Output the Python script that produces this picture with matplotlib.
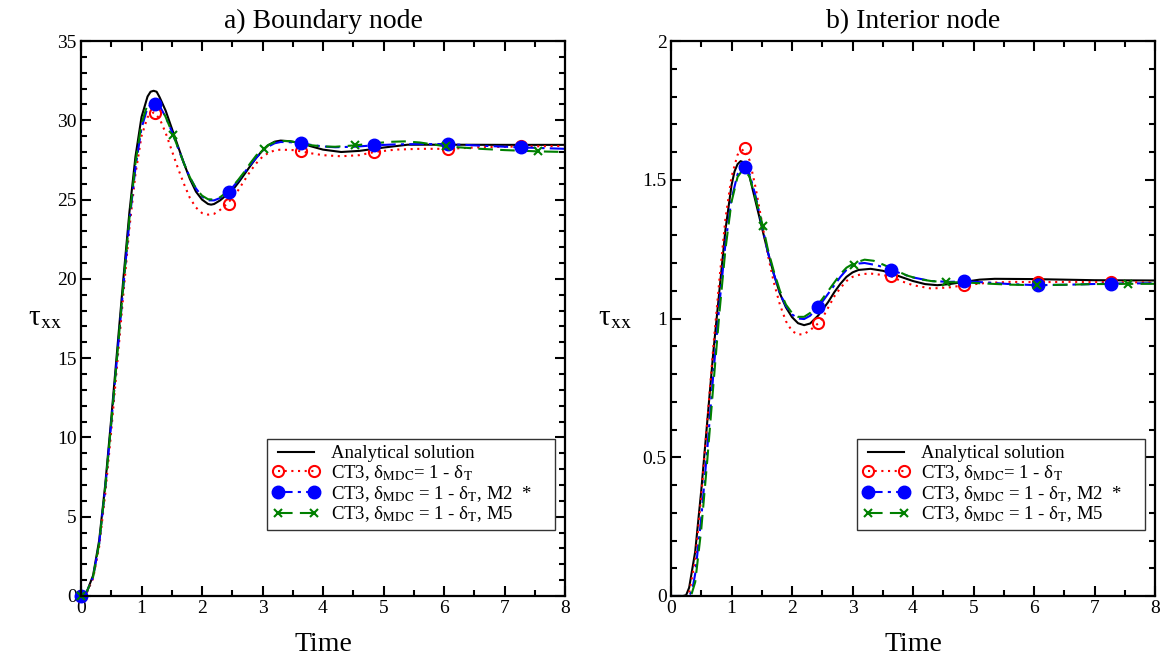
import numpy as np
import matplotlib
matplotlib.use("Agg")
import matplotlib.pyplot as plt
from matplotlib.lines import Line2D

plt.rcParams['font.family'] = ['Liberation Serif', 'DejaVu Serif']
plt.rcParams['mathtext.fontset'] = 'stix'

# ---- a) boundary node ----
tb_exact = [0, 0.1, 0.2, 0.3, 0.4, 0.5, 0.6, 0.7, 0.8, 0.9, 1.0, 1.1, 1.15, 1.2, 1.25, 1.3,
            1.4, 1.5, 1.6, 1.7, 1.8, 1.9, 2.0, 2.1, 2.15, 2.2, 2.3, 2.44, 2.5, 2.6, 2.7, 2.8,
            2.9, 3.0, 3.1, 3.2, 3.3, 3.45, 3.64, 3.8, 4.0, 4.3, 4.6, 4.85, 5.0, 5.4, 6.0, 7.0, 8.0]
vb_exact = [0, 0.3, 1.3, 3.5, 7.0, 11.2, 15.6, 20.0, 24.2, 27.7, 30.2, 31.5, 31.8, 31.86, 31.8, 31.45,
            30.6, 29.5, 28.4, 27.3, 26.3, 25.5, 25.0, 24.72, 24.68, 24.72, 24.95, 25.4, 25.57, 26.06, 26.59, 27.13,
            27.65, 28.09, 28.44, 28.65, 28.72, 28.68, 28.56, 28.36, 28.15, 28.0, 28.07, 28.2, 28.28, 28.46, 28.46, 28.45, 28.45]

tb_ct3 = [0, 0.1, 0.2, 0.3, 0.4, 0.5, 0.6, 0.7, 0.8, 0.9, 1.0, 1.1, 1.2, 1.3, 1.4, 1.5, 1.6, 1.7,
          1.8, 1.9, 2.0, 2.1, 2.2, 2.3, 2.42, 2.5, 2.6, 2.7, 2.8, 2.9, 3.0, 3.1, 3.2, 3.3, 3.5, 3.64,
          3.8, 4.0, 4.3, 4.6, 4.85, 5.2, 5.6, 6.06, 6.6, 7.27, 8.0]
vb_ct3 = [0, 0.25, 1.1, 3.1, 6.4, 10.4, 14.7, 19.0, 23.2, 26.6, 29.0, 30.2, 30.5, 30.1, 29.2, 28.1, 27.0, 26.0,
          25.1, 24.5, 24.15, 24.05, 24.1, 24.35, 24.75, 25.1, 25.6, 26.2, 26.8, 27.3, 27.7, 27.95, 28.1, 28.15, 28.12, 28.04,
          27.92, 27.8, 27.73, 27.8, 28.0, 28.15, 28.2, 28.2, 28.3, 28.35, 28.38]

tb_m2 = [0, 0.1, 0.2, 0.3, 0.4, 0.5, 0.6, 0.7, 0.8, 0.9, 1.0, 1.1, 1.2, 1.3, 1.4, 1.5, 1.6, 1.7,
         1.8, 1.9, 2.0, 2.1, 2.2, 2.3, 2.42, 2.5, 2.6, 2.7, 2.8, 2.9, 3.0, 3.1, 3.2, 3.3, 3.45, 3.64,
         3.8, 4.0, 4.2, 4.5, 4.85, 5.2, 5.6, 6.06, 6.6, 7.27, 8.0]
vb_m2 = [0, 0.3, 1.2, 3.3, 6.8, 10.9, 15.2, 19.5, 23.6, 27.0, 29.5, 30.8, 31.1, 30.9, 30.2, 29.3, 28.3, 27.3,
         26.4, 25.7, 25.2, 24.95, 24.95, 25.1, 25.46, 25.75, 26.2, 26.7, 27.2, 27.65, 28.05, 28.35, 28.55, 28.63, 28.62, 28.56,
         28.45, 28.35, 28.3, 28.33, 28.42, 28.48, 28.5, 28.5, 28.4, 28.29, 28.2]

tb_m5 = [0, 0.1, 0.2, 0.3, 0.4, 0.5, 0.6, 0.7, 0.8, 0.9, 1.0, 1.1, 1.2, 1.3, 1.4, 1.52, 1.6, 1.7,
         1.8, 1.9, 2.0, 2.1, 2.2, 2.3, 2.42, 2.5, 2.6, 2.7, 2.8, 2.9, 3.02, 3.1, 3.2, 3.3, 3.45, 3.64,
         3.8, 4.0, 4.2, 4.53, 4.85, 5.1, 5.35, 5.6, 6.04, 6.6, 7.0, 7.55, 8.0]
vb_m5 = [0, 0.3, 1.2, 3.3, 6.8, 10.9, 15.2, 19.6, 23.8, 27.3, 29.8, 31.0, 31.3, 31.0, 30.2, 29.1, 28.3, 27.3,
         26.4, 25.7, 25.25, 25.02, 25.0, 25.15, 25.5, 25.8, 26.25, 26.75, 27.3, 27.8, 28.19, 28.45, 28.62, 28.7, 28.68, 28.55,
         28.43, 28.35, 28.33, 28.42, 28.55, 28.64, 28.67, 28.6, 28.35, 28.2, 28.12, 28.04, 28.0]

tb_mk = [0, 1.22, 2.44, 3.64, 4.85, 6.06, 7.27]
vb_mk_ct3 = [0, 30.49, 24.75, 28.04, 28.0, 28.2, 28.35]
vb_mk_m2 = [0, 31.04, 25.46, 28.56, 28.42, 28.5, 28.29]
tb_mk_m5 = [0, 1.52, 3.02, 4.53, 6.04, 7.55]
vb_mk_m5 = [0, 29.1, 28.19, 28.42, 28.35, 28.04]

# ---- b) interior node ----
ti_exact = [0, 0.2, 0.25, 0.3, 0.4, 0.5, 0.6, 0.7, 0.8, 0.9, 1.0, 1.05, 1.1, 1.15, 1.2, 1.25, 1.3,
            1.4, 1.5, 1.6, 1.7, 1.8, 1.9, 2.0, 2.1, 2.2, 2.3, 2.43, 2.5, 2.6, 2.7, 2.8, 2.9, 3.0,
            3.1, 3.3, 3.5, 3.64, 3.8, 4.0, 4.2, 4.4, 4.6, 4.85, 5.1, 5.35, 6.0, 7.0, 8.0]
vi_exact = [0, 0, 0.003, 0.03, 0.16, 0.38, 0.63, 0.88, 1.1, 1.32, 1.48, 1.53, 1.556, 1.567, 1.563, 1.545, 1.51,
            1.42, 1.33, 1.24, 1.16, 1.09, 1.04, 1.005, 0.983, 0.976, 0.982, 1.01, 1.03, 1.06, 1.095, 1.125, 1.15, 1.166,
            1.175, 1.179, 1.172, 1.163, 1.15, 1.135, 1.124, 1.12, 1.124, 1.132, 1.14, 1.143, 1.142, 1.138, 1.137]

ti_ct3 = [0, 0.25, 0.3, 0.4, 0.5, 0.6, 0.7, 0.8, 0.9, 1.0, 1.1, 1.2, 1.3, 1.4, 1.5, 1.6, 1.7, 1.8,
          1.9, 2.0, 2.1, 2.2, 2.3, 2.43, 2.5, 2.6, 2.7, 2.8, 2.9, 3.0, 3.15, 3.3, 3.45, 3.64, 3.8, 4.0,
          4.3, 4.6, 4.85, 5.2, 5.6, 6.06, 6.6, 7.27, 8.0]
vi_ct3 = [0, 0, 0.01, 0.13, 0.36, 0.63, 0.9, 1.14, 1.36, 1.51, 1.59, 1.61, 1.57, 1.47, 1.35, 1.23, 1.13, 1.05,
          0.99, 0.955, 0.942, 0.944, 0.958, 0.982, 1.0, 1.04, 1.08, 1.11, 1.135, 1.15, 1.16, 1.162, 1.158, 1.152, 1.135, 1.12,
          1.108, 1.112, 1.12, 1.128, 1.132, 1.131, 1.132, 1.131, 1.13]

ti_m2 = [0, 0.3, 0.35, 0.4, 0.5, 0.6, 0.7, 0.8, 0.9, 1.0, 1.1, 1.2, 1.3, 1.4, 1.5, 1.6, 1.7, 1.8,
         1.9, 2.0, 2.1, 2.2, 2.3, 2.43, 2.5, 2.6, 2.7, 2.8, 2.9, 3.0, 3.1, 3.2, 3.4, 3.64, 3.8, 4.0,
         4.3, 4.6, 4.85, 5.2, 5.6, 6.06, 6.6, 7.27, 8.0]
vi_m2 = [0, 0, 0.02, 0.08, 0.28, 0.53, 0.8, 1.05, 1.27, 1.43, 1.52, 1.548, 1.52, 1.44, 1.34, 1.24, 1.16, 1.09,
         1.045, 1.015, 1.0, 0.998, 1.01, 1.042, 1.06, 1.09, 1.12, 1.15, 1.175, 1.19, 1.198, 1.2, 1.192, 1.176, 1.162, 1.148,
         1.135, 1.132, 1.134, 1.13, 1.124, 1.12, 1.122, 1.126, 1.127]

ti_m5 = [0, 0.33, 0.4, 0.5, 0.6, 0.7, 0.8, 0.9, 1.0, 1.1, 1.2, 1.3, 1.4, 1.52, 1.6, 1.7, 1.8, 1.9,
         2.0, 2.1, 2.2, 2.3, 2.43, 2.5, 2.6, 2.7, 2.8, 2.9, 3.03, 3.2, 3.35, 3.5, 3.7, 3.9, 4.1, 4.3,
         4.54, 4.85, 5.2, 5.6, 6.05, 6.6, 7.0, 7.55, 8.0]
vi_m5 = [0, 0, 0.05, 0.24, 0.49, 0.76, 1.02, 1.25, 1.42, 1.51, 1.54, 1.51, 1.43, 1.332, 1.25, 1.17, 1.1, 1.05,
         1.02, 1.006, 1.006, 1.02, 1.05, 1.07, 1.1, 1.13, 1.16, 1.183, 1.2, 1.212, 1.208, 1.195, 1.175, 1.155, 1.142, 1.135,
         1.131, 1.13, 1.126, 1.122, 1.12, 1.122, 1.124, 1.125, 1.125]

ti_mk = [1.22, 2.43, 3.64, 4.85, 6.06, 7.27]
vi_mk_ct3 = [1.614, 0.982, 1.152, 1.12, 1.131, 1.131]
vi_mk_m2 = [1.546, 1.042, 1.176, 1.134, 1.12, 1.126]
ti_mk_m5 = [1.52, 3.03, 4.54, 6.05, 7.55]
vi_mk_m5 = [1.332, 1.194, 1.131, 1.12, 1.125]

labels = ['Analytical solution',
          'CT3, δ$_{\\rm MDC}$= 1 - δ$_{\\rm T}$',
          'CT3, δ$_{\\rm MDC}$ = 1 - δ$_{\\rm T}$, M2  *',
          'CT3, δ$_{\\rm MDC}$ = 1 - δ$_{\\rm T}$, M5']

RED_LS = (0, (1, 2.2))
BLUE_LS = (0, (7, 2.5, 1.5, 2.5))
GREEN_LS = (0, (7, 3.5))
RED_MK = dict(marker='o', ms=8, mfc='none', mec='red', mew=1.5, ls='none')
BLUE_MK = dict(marker='o', ms=9, mfc='blue', mec='blue', ls='none')
GREEN_MK = dict(marker='x', ms=6, mec='green', mew=1.5, ls='none')


def draw(ax, exact, ct3, m2, m5, mk_ct3, mk_m2, mk_m5):
    ax.plot(*exact, color='black', lw=1.5)
    ax.plot(*ct3, color='red', lw=1.5, ls=RED_LS)
    ax.plot(*m2, color='blue', lw=1.5, ls=BLUE_LS)
    ax.plot(*m5, color='green', lw=1.5, ls=GREEN_LS)
    ax.plot(*mk_ct3, **RED_MK, clip_on=False)
    ax.plot(*mk_m2, **BLUE_MK, clip_on=False)
    ax.plot(*mk_m5, **GREEN_MK, clip_on=False)


def style(ax, ymax, ymaj, ymin):
    ax.set_xlim(0, 8)
    ax.set_ylim(0, ymax)
    ax.set_xticks(np.arange(0, 9, 1))
    ax.set_xticks(np.arange(0, 8.01, 0.5), minor=True)
    ax.set_yticks(np.arange(0, ymax + 1e-9, ymaj))
    ax.set_yticks(np.arange(0, ymax + 1e-9, ymin), minor=True)
    ax.tick_params(which='both', direction='in', top=True, right=True, labelsize=14, width=1.5)
    ax.tick_params(which='major', length=7.5, pad=3)
    ax.tick_params(which='minor', length=4)
    for s in ax.spines.values():
        s.set_linewidth(1.6)
    ax.set_xlabel('Time', fontsize=20, labelpad=11)
    ax.set_ylabel('τ$_{\\rm xx}$', fontsize=21, rotation=0, ha='right', va='center')


def legend(ax):
    handles = [Line2D([], [], color='black', lw=1.5),
               Line2D([], [], color='red', lw=1.5, ls=RED_LS, marker='o', ms=8, mfc='none', mec='red', mew=1.5),
               Line2D([], [], color='blue', lw=1.5, ls=BLUE_LS, marker='o', ms=9, mfc='blue', mec='blue'),
               Line2D([], [], color='green', lw=1.5, ls=GREEN_LS, marker='x', ms=6, mec='green', mew=1.5)]
    leg = ax.legend(handles, labels, loc='lower left', bbox_to_anchor=(0.384, 0.119, 0.595, 0.171),
                    mode='expand', borderaxespad=0, fontsize=13.5, numpoints=2, handlelength=2.5,
                    handletextpad=0.6, labelspacing=0.05, borderpad=0.3, fancybox=False,
                    framealpha=1, edgecolor='#333333')
    leg.get_frame().set_linewidth(1.0)


fig = plt.figure(figsize=(11.61, 6.57), dpi=100)
ax1 = fig.add_axes([81 / 1161, 61 / 657, 484 / 1161, 555 / 657])
ax2 = fig.add_axes([671 / 1161, 61 / 657, 484 / 1161, 555 / 657])

draw(ax1, (tb_exact, vb_exact), (tb_ct3, vb_ct3), (tb_m2, vb_m2), (tb_m5, vb_m5),
     (tb_mk, vb_mk_ct3), (tb_mk, vb_mk_m2), (tb_mk_m5, vb_mk_m5))
draw(ax2, (ti_exact, vi_exact), (ti_ct3, vi_ct3), (ti_m2, vi_m2), (ti_m5, vi_m5),
     (ti_mk, vi_mk_ct3), (ti_mk, vi_mk_m2), (ti_mk_m5, vi_mk_m5))

style(ax1, 35, 5, 1)
style(ax2, 2, 0.5, 0.1)
ax1.set_yticklabels(['0', '5', '10', '15', '20', '25', '30', '35'])
ax2.set_yticklabels(['0', '0.5', '1', '1.5', '2'])
ax1.yaxis.set_label_coords(-0.039, 0.5)
ax2.yaxis.set_label_coords(-0.081, 0.5)

ax1.set_title('a) Boundary node', fontsize=20, pad=9)
ax2.set_title('b) Interior node', fontsize=20, pad=9)

legend(ax1)
legend(ax2)

fig.savefig('out.png', dpi=100)
